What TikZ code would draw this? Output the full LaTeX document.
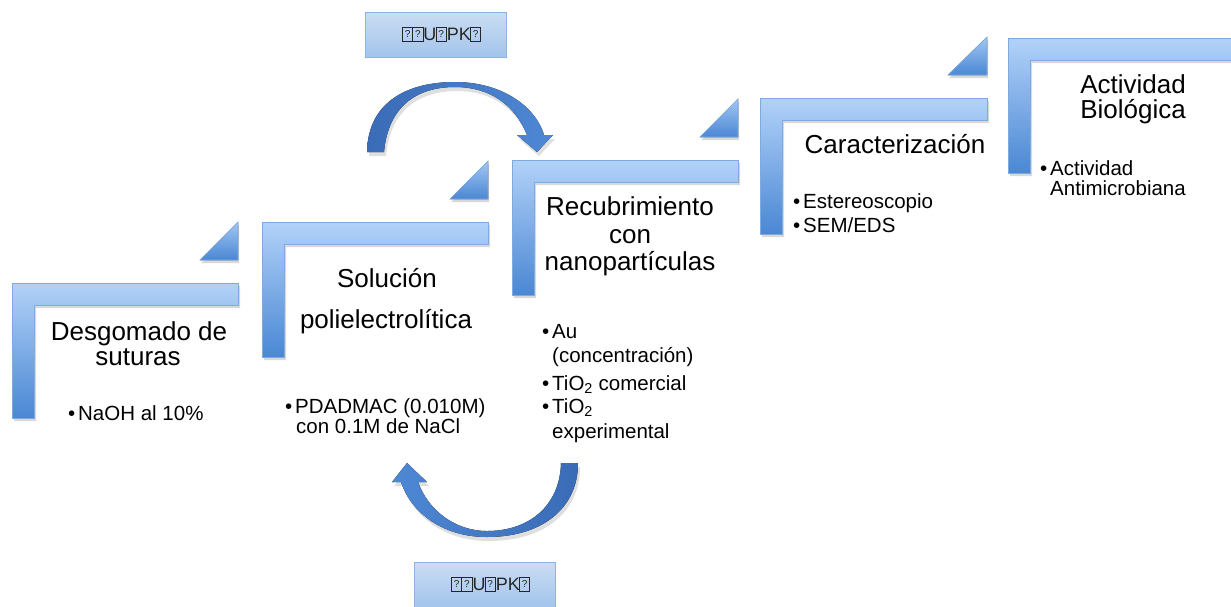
\documentclass[tikz,border=0pt]{standalone}
\usepackage{fontspec}
\setmainfont{Liberation Sans}
\usepackage{xcolor}
\usetikzlibrary{shadows}

\definecolor{barlight}{HTML}{B2D2F8}
\definecolor{bardark}{HTML}{4A87D4}
\definecolor{barline}{HTML}{7FAAE0}
\definecolor{arrdark}{HTML}{3A6BB6}
\definecolor{arrmid}{HTML}{79A8E2}
\definecolor{arrhead}{HTML}{4E88D4}
\definecolor{boxtop}{HTML}{CADDF3}
\definecolor{boxbot}{HTML}{A3C4EC}
\definecolor{boxline}{HTML}{8DB3E0}

\newcommand{\tofu}{{\linethickness{0.9pt}\framebox(9.5,13){\fontsize{10}{10}\selectfont ?}}\kern0.8pt}
\newcommand{\itm}{\llap{\textbullet\hspace{3pt}}}

\tikzset{
  stepbar/.style={top color=barlight, bottom color=bardark, draw=barline, line width=0.6pt,
    drop shadow={shadow xshift=2pt, shadow yshift=-3pt, opacity=0.3}},
  steptri/.style={top color=barlight!85!bardark, bottom color=bardark, draw=barline, line width=0.6pt,
    drop shadow={shadow xshift=1pt, shadow yshift=-3pt, opacity=0.3}},
  title/.style={font=\fontsize{26}{26}\selectfont, anchor=base, inner sep=0pt},
  item/.style={font=\fontsize{20.5}{20.5}\selectfont, anchor=base west, inner sep=0pt},
  cycarrow/.style={drop shadow={shadow xshift=2pt, shadow yshift=-4pt, opacity=0.25}},
  cycbox/.style={draw=boxline, top color=boxtop, bottom color=boxbot, minimum width=141pt,
    minimum height=45pt, font=\fontsize{18}{18}\selectfont, text=black!85, inner sep=0pt},
}

\begin{document}
\begin{tikzpicture}[x=1pt, y=-1pt]
  \fill[white] (0,0) rectangle (1231,606);
  \useasboundingbox (0,0) rectangle (1231,606);

  % steps
  \fill[stepbar] (12,283) -- ++(226,0) -- ++(0,22) -- ++(-204,0) -- ++(0,113) -- ++(-22,0) -- cycle; % desgomado
  \fill[steptri] (200,260) -- ++(38,0) -- ++(0,-38) -- cycle;
  \fill[stepbar] (262,222) -- ++(226,0) -- ++(0,22) -- ++(-204,0) -- ++(0,113) -- ++(-22,0) -- cycle; % solucion
  \fill[steptri] (450,199) -- ++(38,0) -- ++(0,-38) -- cycle;
  \fill[stepbar] (512,160) -- ++(226,0) -- ++(0,22) -- ++(-204,0) -- ++(0,113) -- ++(-22,0) -- cycle; % recubrimiento
  \fill[steptri] (700,137) -- ++(38,0) -- ++(0,-38) -- cycle;
  \fill[stepbar] (760,98) -- ++(227,0) -- ++(0,22) -- ++(-205,0) -- ++(0,114) -- ++(-22,0) -- cycle; % caracterizacion
  \fill[steptri] (948,75) -- ++(39,0) -- ++(0,-38) -- cycle;
  \fill[stepbar] (1008,38) -- ++(226,0) -- ++(0,22) -- ++(-204,0) -- ++(0,113) -- ++(-22,0) -- cycle; % actividad

  % titles
  \node[title] (t1a) at (139,340) {Desgomado de};
  \node[title] (t1b) at (138,365) {suturas};
  \node[title] (t2a) at (387,287) {Solución};
  \node[title] (t2b) at (386,328) {polielectrolítica};
  \node[title] (t3a) at (630,215) {Recubrimiento};
  \node[title] (t3b) at (630,243) {con};
  \node[title] (t3c) at (630,270) {nanopartículas};
  \node[title] (t4a) at (895,153) {Caracterización};
  \node[title] (t5a) at (1133,93) {Actividad};
  \node[title] (t5b) at (1133,118) {Biológica};

  % bullets
  \node[item] (i1a) at (78,420) {\itm NaOH al 10\%};
  \node[item] (i2a) at (295,413) {\itm PDADMAC (0.010M)};
  \node[item] (i2b) at (296,433) {con 0.1M de NaCl};
  \node[item] (i3a) at (552,338) {\itm Au};
  \node[item] (i3b) at (552,362) {(concentración)};
  \node[item] (i3c) at (552,390) {\itm TiO\textsubscript{2} comercial};
  \node[item] (i3d) at (552,413) {\itm TiO\textsubscript{2}};
  \node[item] (i3e) at (552,438) {experimental};
  \node[item] (i4a) at (803,208) {\itm Estereoscopio};
  \node[item] (i4b) at (803,232) {\itm SEM/EDS};
  \node[item] (i5a) at (1050,175) {\itm Actividad};
  \node[item] (i5b) at (1050,195) {Antimicrobiana};

  % cycle arrows
  \fill[cycarrow, left color=arrdark, middle color=arrmid, right color=arrhead]
    (367,152) .. controls (368,100) and (410,82) .. (455,82)
    .. controls (500,82) and (535,105) .. (544,135) -- (553,135) -- (537,152) -- (517,135) -- (527,135)
    .. controls (515,105) and (490,87) .. (455,87)
    .. controls (415,87) and (388,108) .. (384,152) -- cycle; % top
  \fill[cycarrow, left color=arrhead, middle color=arrmid, right color=arrdark]
    (578,463) .. controls (578,510) and (540,537) .. (487,537)
    .. controls (440,537) and (410,510) .. (401,482) -- (392,482) -- (407,463) -- (427,482) -- (418,482)
    .. controls (428,510) and (455,531) .. (487,531)
    .. controls (530,531) and (560,505) .. (561,463) -- cycle; % bottom

  % cycle labels
  \node[cycbox] (c1) at (436,34.5) {\hspace{12pt}\tofu\tofu U\tofu PK\tofu};
  \node[cycbox] (c2) at (485,584.5) {\hspace{12pt}\tofu\tofu U\tofu PK\tofu};
\end{tikzpicture}
\end{document}
